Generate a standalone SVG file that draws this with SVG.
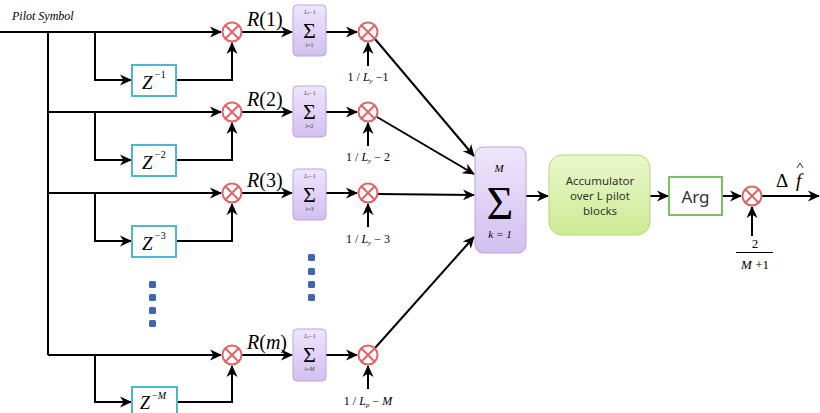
<svg xmlns="http://www.w3.org/2000/svg" width="820" height="413" viewBox="0 0 820 413">
<defs>
<marker id="ar" markerUnits="userSpaceOnUse" markerWidth="12" markerHeight="12" viewBox="0 0 12 12" refX="11" refY="6" orient="auto">
<path d="M0,0.5 L12,6 L0,11.5 L3.5,6 z" fill="#000"/>
</marker>
<linearGradient id="pg" x1="0" y1="0" x2="0" y2="1">
<stop offset="0" stop-color="#efe6fb"/><stop offset="1" stop-color="#d2bff0"/>
</linearGradient>
<linearGradient id="gg" x1="0" y1="0" x2="0" y2="1">
<stop offset="0" stop-color="#eaf7cc"/><stop offset="1" stop-color="#cdeb94"/>
</linearGradient>
<g id="mul">
<circle cx="0" cy="0" r="9.5" fill="#fff" stroke="#e06464" stroke-width="2"/>
<path d="M-6.7,-6.7 L6.7,6.7 M-6.7,6.7 L6.7,-6.7" stroke="#e06464" stroke-width="2"/>
</g>
</defs>
<style>
.ln{fill:none;stroke:#000;stroke-width:2}
.ar{marker-end:url(#ar)}
.zb{fill:#fff;stroke:#4bb8cc;stroke-width:2}
.sb{fill:url(#pg);stroke:#b9a6dc;stroke-width:1}
.m{font-family:"Liberation Serif",serif;fill:#000}
.i{font-style:italic}
.s{font-family:"Liberation Serif",serif;fill:#444;font-size:6px;text-anchor:middle}
.dot{fill:#3a67b0}
.t{font-family:"Noto Sans","DejaVu Sans",sans-serif;fill:#333;text-anchor:middle}
</style>

<text x="12" y="20" class="m i" font-size="12" fill="#222">Pilot Symbol</text>

<g id="connectors">
<path class="ln" d="M0,32 L95,32 M48,32 L48,355"/>
<path class="ln ar" d="M95,32 L221,32"/>
<path class="ln ar" d="M95,32 L95,80 L131,80"/>
<path class="ln ar" d="M176,80 L232,80 L232,43"/>
<path class="ln ar" d="M242,32 L292,32"/>
<path class="ln ar" d="M326,32 L357,32"/>
<path class="ln ar" d="M368,66 L368,43"/>
<path class="ln ar" d="M375,39 L474,156"/>
<path class="ln ar" d="M48,112 L221,112"/>
<path class="ln ar" d="M95,112 L95,160 L131,160"/>
<path class="ln ar" d="M176,160 L232,160 L232,123"/>
<path class="ln ar" d="M242,112 L292,112"/>
<path class="ln ar" d="M326,112 L357,112"/>
<path class="ln ar" d="M368,146 L368,123"/>
<path class="ln ar" d="M377,117 L474,174"/>
<path class="ln ar" d="M48,193 L221,193"/>
<path class="ln ar" d="M95,193 L95,241 L131,241"/>
<path class="ln ar" d="M176,241 L232,241 L232,204"/>
<path class="ln ar" d="M242,193 L292,193"/>
<path class="ln ar" d="M326,193 L357,193"/>
<path class="ln ar" d="M368,227 L368,204"/>
<path class="ln ar" d="M378,194 L474,195"/>
<path class="ln ar" d="M48,355 L221,355"/>
<path class="ln ar" d="M95,355 L95,402 L131,402"/>
<path class="ln ar" d="M177,402 L232,402 L232,366"/>
<path class="ln ar" d="M242,355 L292,355"/>
<path class="ln ar" d="M326,355 L357,355"/>
<path class="ln ar" d="M368,389 L368,366"/>
<path class="ln ar" d="M375,348 L474,237"/>
<path class="ln ar" d="M526,196 L548,196"/>
<path class="ln ar" d="M650,196 L668,196"/>
<path class="ln ar" d="M722,196 L741,196"/>
<path class="ln ar" d="M762,196 L819,196"/>
<path class="ln ar" d="M752,236 L752,207"/>
</g>

<g id="z1"><rect class="zb" x="132" y="65" width="44" height="31"/><text x="142" y="89" class="m i" font-size="19">Z</text><text x="155" y="78" class="m" font-size="10">−1</text></g>
<g id="z2"><rect class="zb" x="132" y="145" width="44" height="31"/><text x="142" y="169" class="m i" font-size="19">Z</text><text x="155" y="158" class="m" font-size="10">−2</text></g>
<g id="z3"><rect class="zb" x="132" y="226" width="44" height="31"/><text x="142" y="250" class="m i" font-size="19">Z</text><text x="155" y="239" class="m" font-size="10">−3</text></g>
<g id="zm"><rect class="zb" x="132" y="387" width="45" height="31"/><text x="140" y="409" class="m i" font-size="18">Z</text><text x="152" y="399" class="m" font-size="10">−<tspan class="i">M</tspan></text></g>

<g id="ma1"><use href="#mul" x="232" y="32"/></g>
<g id="ma2"><use href="#mul" x="232" y="112"/></g>
<g id="ma3"><use href="#mul" x="232" y="193"/></g>
<g id="mam"><use href="#mul" x="232" y="355"/></g>
<g id="mb1"><use href="#mul" x="368" y="32"/></g>
<g id="mb2"><use href="#mul" x="368" y="112"/></g>
<g id="mb3"><use href="#mul" x="368" y="193"/></g>
<g id="mbm"><use href="#mul" x="368" y="355"/></g>
<g id="mout"><use href="#mul" x="752" y="196"/></g>

<text x="247" y="26" class="m" font-size="20"><tspan class="i">R</tspan>(1)</text>
<text x="247" y="106" class="m" font-size="20"><tspan class="i">R</tspan>(2)</text>
<text x="247" y="187" class="m" font-size="20"><tspan class="i">R</tspan>(3)</text>
<text x="247" y="349" class="m" font-size="20"><tspan class="i">R</tspan>(<tspan class="i">m</tspan>)</text>

<g id="s1"><rect class="sb" x="293" y="5" width="33" height="51" rx="4"/><text x="310" y="14" class="s"><tspan font-style="italic">L</tspan><tspan font-size="4" font-style="italic">y</tspan>−1</text><text x="309.5" y="38" class="m" font-size="22" text-anchor="middle" fill="#555">Σ</text><text x="309.5" y="47" class="s">i=1</text></g>
<g id="s2"><rect class="sb" x="293" y="86" width="33" height="51" rx="4"/><text x="310" y="95" class="s"><tspan font-style="italic">L</tspan><tspan font-size="4" font-style="italic">y</tspan>−1</text><text x="309.5" y="119" class="m" font-size="22" text-anchor="middle" fill="#555">Σ</text><text x="309.5" y="128" class="s">i=2</text></g>
<g id="s3"><rect class="sb" x="293" y="169" width="33" height="51" rx="4"/><text x="310" y="178" class="s"><tspan font-style="italic">L</tspan><tspan font-size="4" font-style="italic">y</tspan>−1</text><text x="309.5" y="202" class="m" font-size="22" text-anchor="middle" fill="#555">Σ</text><text x="309.5" y="211" class="s">i=3</text></g>
<g id="sm"><rect class="sb" x="293" y="329" width="33" height="52" rx="4"/><text x="310" y="338" class="s"><tspan font-style="italic">L</tspan><tspan font-size="4" font-style="italic">y</tspan>−1</text><text x="309.5" y="362" class="m" font-size="22" text-anchor="middle" fill="#555">Σ</text><text x="309.5" y="371" class="s">i=<tspan font-style="italic">M</tspan></text></g>

<text x="368" y="81" class="m" font-size="12" text-anchor="middle">1 / <tspan class="i">L</tspan><tspan class="i" font-size="7" dy="2">y</tspan><tspan dy="-2"> −1</tspan></text>
<text x="368" y="161" class="m" font-size="12" text-anchor="middle">1 / <tspan class="i">L</tspan><tspan class="i" font-size="7" dy="2">y</tspan><tspan dy="-2"> − 2</tspan></text>
<text x="368" y="243" class="m" font-size="12" text-anchor="middle">1 / <tspan class="i">L</tspan><tspan class="i" font-size="7" dy="2">y</tspan><tspan dy="-2"> − 3</tspan></text>
<text x="368" y="405" class="m" font-size="12" text-anchor="middle">1 / <tspan class="i">L</tspan><tspan class="i" font-size="7" dy="2">p</tspan><tspan dy="-2"> − </tspan><tspan class="i">M</tspan></text>

<g id="dots1"><rect class="dot" x="149" y="281" width="7" height="7" rx="1.5"/><rect class="dot" x="149" y="294" width="7" height="7" rx="1.5"/><rect class="dot" x="149" y="307" width="7" height="7" rx="1.5"/><rect class="dot" x="149" y="320" width="7" height="7" rx="1.5"/></g>
<g id="dots2"><rect class="dot" x="308" y="254" width="7" height="7" rx="1.5"/><rect class="dot" x="308" y="268" width="7" height="7" rx="1.5"/><rect class="dot" x="308" y="281" width="7" height="7" rx="1.5"/><rect class="dot" x="308" y="294" width="7" height="7" rx="1.5"/></g>

<g id="bigsum"><rect class="sb" x="475" y="147" width="51" height="106" rx="8"/>
<text x="499" y="172" class="m i" font-size="11" text-anchor="middle" fill="#333">M</text>
<text x="500" y="219" class="m" font-size="46" text-anchor="middle" fill="#333">Σ</text>
<text x="500" y="238" class="m i" font-size="11" text-anchor="middle" fill="#333">k = 1</text></g>

<g id="acc"><rect x="549" y="155" width="101" height="80" rx="13" fill="url(#gg)" stroke="#b5d97a" stroke-width="1"/>
<text x="600" y="185" class="t" font-size="11.5">Accumulator</text>
<text x="600" y="200" class="t" font-size="11.5">over L pilot</text>
<text x="600" y="215" class="t" font-size="11.5">blocks</text></g>

<g id="arg"><rect x="669" y="177" width="53" height="38" fill="#fff" stroke="#7cc063" stroke-width="2"/>
<text x="695.5" y="203" class="t" font-size="17" fill="#222">Arg</text></g>

<text x="776" y="187" class="m" font-size="19">Δ</text>
<text x="796" y="187" class="m i" font-size="19">f</text>
<path d="M797,168 L800,163 L803,168" fill="none" stroke="#000" stroke-width="0.8"/>

<text x="755" y="248" class="m" font-size="13" text-anchor="middle">2</text>
<line x1="736" y1="252.5" x2="773" y2="252.5" stroke="#000" stroke-width="1"/>
<text x="755" y="269" class="m" font-size="13" text-anchor="middle"><tspan class="i">M</tspan> +1</text>
</svg>
